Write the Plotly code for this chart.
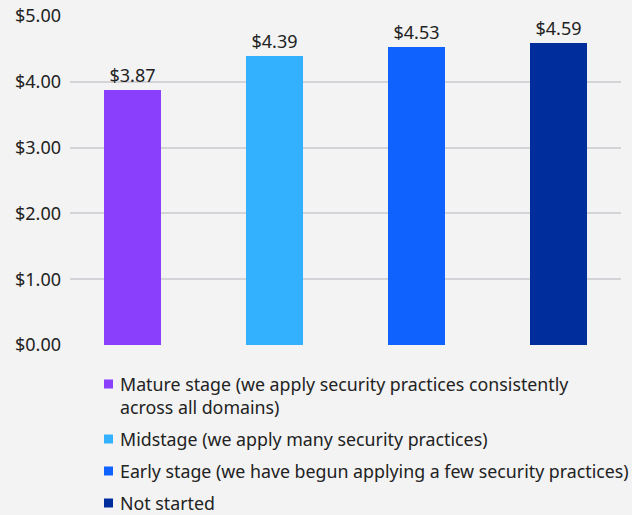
import plotly.graph_objects as go

# Average cost (USD millions) by security-practice maturity stage
stages = [
    "Mature stage (we apply security practices consistently<br>across all domains)",
    "Midstage (we apply many security practices)",
    "Early stage (we have begun applying a few security practices)",
    "Not started",
]
costs = [3.87, 4.39, 4.53, 4.59]
colors = ["#8a3ffc", "#33b1ff", "#1062fe", "#002d9c"]
y_ticks = [0, 1, 2, 3, 4, 5]
y_tick_labels = [f"${v:.2f}" for v in y_ticks]

FONT = "Noto Sans, sans-serif"
TEXT_COLOR = "#222222"
BG = "#f3f3f3"

W, H = 632, 515
M_L, M_R, M_T, M_B = 70, 11, 16, 170
PLOT_W = W - M_L - M_R
PLOT_H = H - M_T - M_B


def px_x(x):
    """Convert a pixel column to paper x."""
    return (x - M_L) / PLOT_W


def px_y(y):
    """Convert a pixel row to paper y."""
    return (H - M_B - y) / PLOT_H


fig = go.Figure()
for i, (name, val, col) in enumerate(zip(stages, costs, colors)):
    fig.add_trace(go.Bar(
        x=[i],
        y=[val],
        name=name,
        marker=dict(color=col, line=dict(width=0)),
        width=0.4,
        text=[f"${val:.2f}"],
        textposition="outside",
        textfont=dict(size=18, color=TEXT_COLOR, family=FONT),
        cliponaxis=False,
        showlegend=False,
    ))

# Legend drawn below the plot: colour swatch plus label for each stage
legend_rows = [395, 439, 471, 503]
swatch_rows = [384, 439, 471, 503]
for name, col, ty, sy in zip(stages, colors, legend_rows, swatch_rows):
    fig.add_shape(
        type="rect", xref="paper", yref="paper",
        x0=px_x(104), x1=px_x(113),
        y0=px_y(sy - 4.5), y1=px_y(sy + 4.5),
        fillcolor=col, line=dict(width=0),
    )
    fig.add_annotation(
        xref="paper", yref="paper",
        x=px_x(118), y=px_y(ty),
        xanchor="left", yanchor="middle", align="left",
        text=name, showarrow=False,
        font=dict(size=17.8, color=TEXT_COLOR, family=FONT),
    )

fig.update_layout(
    width=W,
    height=H,
    margin=dict(l=M_L, r=M_R, t=M_T, b=M_B, autoexpand=False),
    paper_bgcolor=BG,
    plot_bgcolor=BG,
    font=dict(family=FONT, size=18, color=TEXT_COLOR),
    showlegend=False,
    bargap=0,
)
fig.update_xaxes(
    range=[-0.44, 3.44],
    showticklabels=False,
    showgrid=False,
    zeroline=False,
    showline=False,
    ticks="",
    automargin=False,
)
fig.update_yaxes(
    range=[0, 5],
    tickmode="array",
    tickvals=y_ticks,
    ticktext=y_tick_labels,
    showgrid=True,
    gridcolor="#d4d4d8",
    gridwidth=1.5,
    zeroline=False,
    showline=False,
    ticks="",
    ticklabelstandoff=8,
    automargin=False,
    tickfont=dict(size=18, color=TEXT_COLOR, family=FONT),
)

fig.write_html("out.html")
